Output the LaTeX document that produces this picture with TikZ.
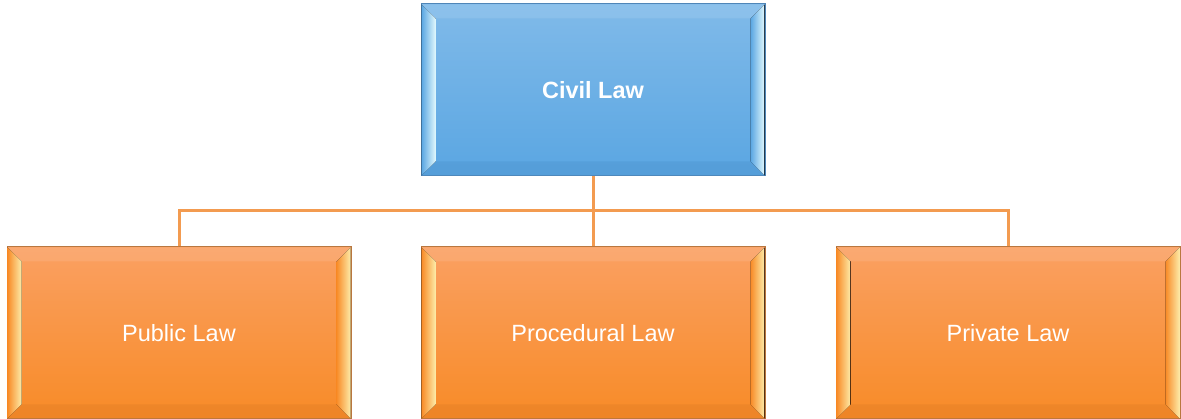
\documentclass[tikz,border=0pt]{standalone}
\usepackage{fontspec}
\setmainfont{Liberation Sans}
\usetikzlibrary{calc}
\definecolor{btop}{HTML}{80BAE9}
\definecolor{bbot}{HTML}{5AA6E2}
\definecolor{bedge}{HTML}{4F86B8}
\definecolor{blight}{HTML}{E0F8FD}
\definecolor{bdark}{HTML}{4E95D0}
\definecolor{otop}{HTML}{FAA062}
\definecolor{obot}{HTML}{F88B27}
\definecolor{oedge}{HTML}{B9773F}
\definecolor{olight}{HTML}{FDEBA8}
\definecolor{odark}{HTML}{E27E26}
\definecolor{conncol}{HTML}{F39B50}
\tikzset{
  bevbox/.style={rectangle, minimum width=344pt, minimum height=172pt, inner sep=0pt,
    line width=1pt, text=white, font=\fontsize{23.5}{28}\selectfont},
  bluebox/.style={bevbox, top color=btop, bottom color=bbot, draw=bedge},
  orangebox/.style={bevbox, top color=otop, bottom color=obot, draw=oedge},
  conn/.style={draw=conncol, line width=3pt},
}
\newcommand\bevelfaces[4]{% node, main color, light color, dark color
  \fill[left color=#2, right color=#3, middle color=#2!50!#3]
    ($(#1.north west)+(1pt,-1pt)$) -- ($(#1.south west)+(1pt,1pt)$) -- ($(#1.south west)+(15pt,15pt)$) -- ($(#1.north west)+(15pt,-15pt)$) -- cycle;
  \fill[left color=#2, right color=#3]
    ($(#1.north east)+(-1pt,-1pt)$) -- ($(#1.south east)+(-1pt,1pt)$) -- ($(#1.south east)+(-15pt,15pt)$) -- ($(#1.north east)+(-15pt,-15pt)$) -- cycle;
  \fill[#4, opacity=0.45]
    ($(#1.south west)+(1pt,1pt)$) -- ($(#1.south east)+(-1pt,1pt)$) -- ($(#1.south east)+(-15pt,15pt)$) -- ($(#1.south west)+(15pt,15pt)$) -- cycle;
  \fill[white, opacity=0.10]
    ($(#1.north west)+(1pt,-1pt)$) -- ($(#1.north east)+(-1pt,-1pt)$) -- ($(#1.north east)+(-15pt,-15pt)$) -- ($(#1.north west)+(15pt,-15pt)$) -- cycle;
}
\begin{document}
\begin{tikzpicture}[x=1pt,y=-1pt]
\useasboundingbox (0,0) rectangle (1181,419);
\node[bluebox] (civil) at (593,90) {};
\node[orangebox] (public) at (179,333) {};
\node[orangebox] (procedural) at (593,333) {};
\node[orangebox] (private) at (1008,333) {};
\bevelfaces{civil}{bbot}{blight}{bdark}
\bevelfaces{public}{obot}{olight}{odark}
\bevelfaces{procedural}{obot}{olight}{odark}
\bevelfaces{private}{obot}{olight}{odark}
\node[text=white, font=\fontsize{23.5}{28}\selectfont\bfseries] at (civil) {Civil Law};
\node[text=white, font=\fontsize{23.5}{28}\selectfont] at (public) {Public Law};
\node[text=white, font=\fontsize{23.5}{28}\selectfont] at (procedural) {Procedural Law};
\node[text=white, font=\fontsize{23.5}{28}\selectfont] at (private) {Private Law};
\coordinate (j) at (593,211);
\draw[conn] (civil.south) -- (procedural.north);
\draw[conn] (public.north) |- (j) -| (private.north);
\end{tikzpicture}
\end{document}
